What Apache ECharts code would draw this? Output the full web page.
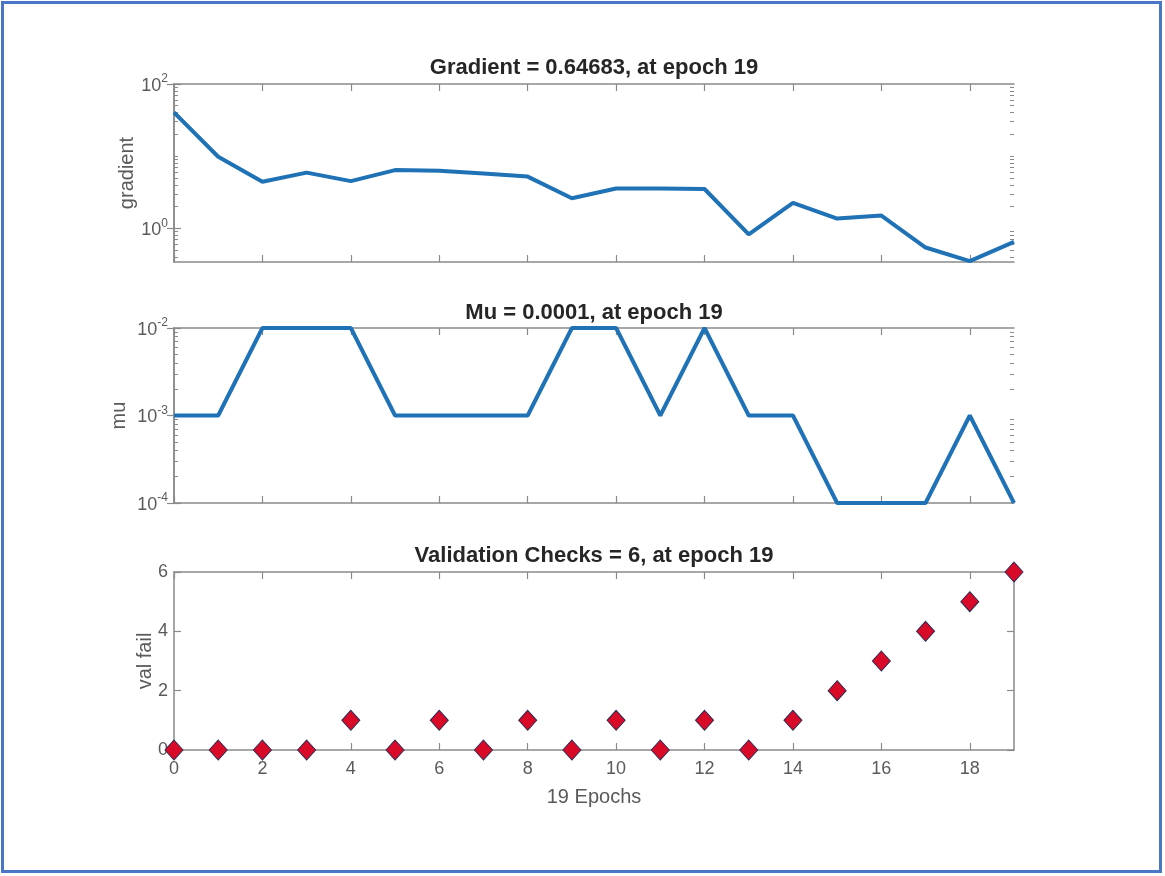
<!DOCTYPE html>
<html>
<head>
<meta charset="utf-8">
<script src="https://cdn.jsdelivr.net/npm/echarts@6/dist/echarts.min.js"></script>
<style>
html,body{margin:0;padding:0;background:#fff;}
#chart{width:1165px;height:876px;}
</style>
</head>
<body>
<div id="chart"></div>
<script>
// ---- data ----
const epochs = [0,1,2,3,4,5,6,7,8,9,10,11,12,13,14,15,16,17,18,19];
const gradient = [40.5, 9.8, 4.4, 5.9, 4.5, 6.4, 6.25, 5.75, 5.2, 2.6, 3.55, 3.55, 3.5, 0.82, 2.25, 1.36, 1.5, 0.54, 0.35, 0.64683];
const mu = [1e-3,1e-3,1e-2,1e-2,1e-2,1e-3,1e-3,1e-3,1e-3,1e-2,1e-2,1e-3,1e-2,1e-3,1e-3,1e-4,1e-4,1e-4,1e-3,1e-4];
const valFail = [0,0,0,0,1,0,1,0,1,0,1,0,1,0,1,2,3,4,5,6];

const xTicks = [0,2,4,6,8,10,12,14,16,18];
const gradTicks = [1, 100];
const gradMinor = [0.4,0.5,0.6,0.7,0.8,0.9,2,3,4,5,6,7,8,9,10,20,30,40,50,60,70,80,90];
const muTicks = [1e-4, 1e-3, 1e-2];
const muMinor = [2e-4,3e-4,4e-4,5e-4,6e-4,7e-4,8e-4,9e-4,2e-3,3e-3,4e-3,5e-3,6e-3,7e-3,8e-3,9e-3];
const valTicks = [0,2,4,6];

const titles = ['Gradient = 0.64683, at epoch 19', 'Mu = 0.0001, at epoch 19', 'Validation Checks = 6, at epoch 19'];
const yNames = ['gradient', 'mu', 'val fail'];
const xName = '19 Epochs';

// ---- styling ----
const FONT = '"Liberation Sans", Arial, sans-serif';
const axisCol = '#8a8a8a';
const labCol = '#5a5a5a';
const lineCol = '#1f72b5';

const gridDefs = [
  {left:174, width:840, top:84, height:178},
  {left:174, width:840, top:328, height:175},
  {left:174, width:840, top:572, height:178}
];

function supFmt(v){
  const e = Math.round(Math.log10(v));
  return '{b|10}{s|' + e + '}';
}
const supRich = {
  b:{fontSize:18, color:labCol, fontFamily:FONT, lineHeight:22, verticalAlign:'bottom'},
  s:{fontSize:12, color:labCol, fontFamily:FONT, verticalAlign:'top', padding:[0,0,0,0]}
};

const xAxes = [];
gridDefs.forEach((g,i)=>{
  const last = i === 2;
  xAxes.push({
    type:'value', gridIndex:i, position:'bottom', min:0, max:19,
    axisLine:{show:true, onZero:false, lineStyle:{color:axisCol, width:1.5}},
    axisTick:{show:true, inside:true, length:7, customValues:xTicks, lineStyle:{color:axisCol, width:1.2}},
    axisLabel:{show:last, customValues:xTicks, color:labCol, fontSize:18, fontFamily:FONT, margin:10},
    splitLine:{show:false},
    name: last ? xName : '', nameLocation:'middle', nameGap:37, nameMoveOverlap:false,
    nameTextStyle:{color:labCol, fontSize:20, fontFamily:FONT}
  });
  xAxes.push({
    type:'value', gridIndex:i, position:'top', min:0, max:19,
    axisLine:{show:true, onZero:false, lineStyle:{color:axisCol, width:1.5}},
    axisTick:{show:true, inside:true, length:7, customValues:xTicks, lineStyle:{color:axisCol, width:1.2}},
    axisLabel:{show:false},
    splitLine:{show:false}
  });
});

const yAxes = [];
function logAxes(gi, min, max, major, minor, name, gap){
  const base = {type:'log', logBase:10, gridIndex:gi, min:min, max:max, splitLine:{show:false}};
  yAxes.push(Object.assign({}, base, {
    position:'left',
    axisLine:{show:true, lineStyle:{color:axisCol, width:1.5}},
    axisTick:{show:true, inside:true, length:7, customValues:major, lineStyle:{color:axisCol, width:1.2}},
    axisLabel:{show:true, customValues:major, formatter:supFmt, rich:supRich, margin:6},
    name:name, nameLocation:'middle', nameRotate:90, nameGap:gap, nameMoveOverlap:false,
    nameTextStyle:{color:labCol, fontSize:20, fontFamily:FONT}
  }));
  yAxes.push(Object.assign({}, base, {
    position:'right',
    axisLine:{show:true, lineStyle:{color:axisCol, width:1.5}},
    axisTick:{show:true, inside:true, length:7, customValues:major, lineStyle:{color:axisCol, width:1.2}},
    axisLabel:{show:false}
  }));
  yAxes.push(Object.assign({}, base, {
    position:'left', offset:0,
    axisLine:{show:false},
    axisTick:{show:true, inside:true, length:4, customValues:minor, lineStyle:{color:axisCol, width:1}},
    axisLabel:{show:false}
  }));
  yAxes.push(Object.assign({}, base, {
    position:'right', offset:0,
    axisLine:{show:false},
    axisTick:{show:true, inside:true, length:4, customValues:minor, lineStyle:{color:axisCol, width:1}},
    axisLabel:{show:false}
  }));
}
logAxes(0, 0.34, 100, gradTicks, gradMinor, yNames[0], 37);
logAxes(1, 1e-4, 1e-2, muTicks, muMinor, yNames[1], 45);
// val fail
yAxes.push({
  type:'value', gridIndex:2, position:'left', min:0, max:6,
  axisLine:{show:true, onZero:false, lineStyle:{color:axisCol, width:1.5}},
  axisTick:{show:true, inside:true, length:7, customValues:valTicks, lineStyle:{color:axisCol, width:1.2}},
  axisLabel:{show:true, customValues:valTicks, color:labCol, fontSize:18, fontFamily:FONT, margin:6},
  splitLine:{show:false},
  name:yNames[2], nameLocation:'middle', nameRotate:90, nameGap:19, nameMoveOverlap:false,
  nameTextStyle:{color:labCol, fontSize:20, fontFamily:FONT}
});
yAxes.push({
  type:'value', gridIndex:2, position:'right', min:0, max:6,
  axisLine:{show:true, onZero:false, lineStyle:{color:axisCol, width:1.5}},
  axisTick:{show:true, inside:true, length:7, customValues:valTicks, lineStyle:{color:axisCol, width:1.2}},
  axisLabel:{show:false},
  splitLine:{show:false}
});

const titleY = [68, 313, 556];
const graphics = [
  {type:'rect', shape:{x:2.5, y:2.5, width:1158, height:869}, style:{fill:'none', stroke:'#4a76c8', lineWidth:3}, z:100}
];
titles.forEach((t,i)=>{
  graphics.push({type:'text', x:594, y:titleY[i], style:{text:t, align:'center', verticalAlign:'middle', font:'bold 22px ' + FONT, fill:'#262626'}});
});

const option = {
  animation:false,
  backgroundColor:'#ffffff',
  grid: gridDefs.map(g=>Object.assign({containLabel:false}, g)),
  xAxis: xAxes,
  yAxis: yAxes,
  graphic: graphics,
  series:[
    {type:'line', xAxisIndex:0, yAxisIndex:0, data:epochs.map((e,i)=>[e, gradient[i]]),
     showSymbol:false, clip:false, lineStyle:{color:lineCol, width:4}, z:5},
    {type:'line', xAxisIndex:2, yAxisIndex:4, data:epochs.map((e,i)=>[e, mu[i]]),
     showSymbol:false, clip:false, lineStyle:{color:lineCol, width:4}, z:5},
    {type:'scatter', xAxisIndex:4, yAxisIndex:8, data:epochs.map((e,i)=>[e, valFail[i]]),
     symbol:'diamond', symbolSize:[18,20], clip:false,
     itemStyle:{color:'#d80a28', opacity:1, borderColor:'#2a2a55', borderWidth:1}, z:5}
  ]
};

const chart = echarts.init(document.getElementById('chart'), null, {renderer:'canvas'});
chart.setOption(option);
</script>
</body>
</html>
